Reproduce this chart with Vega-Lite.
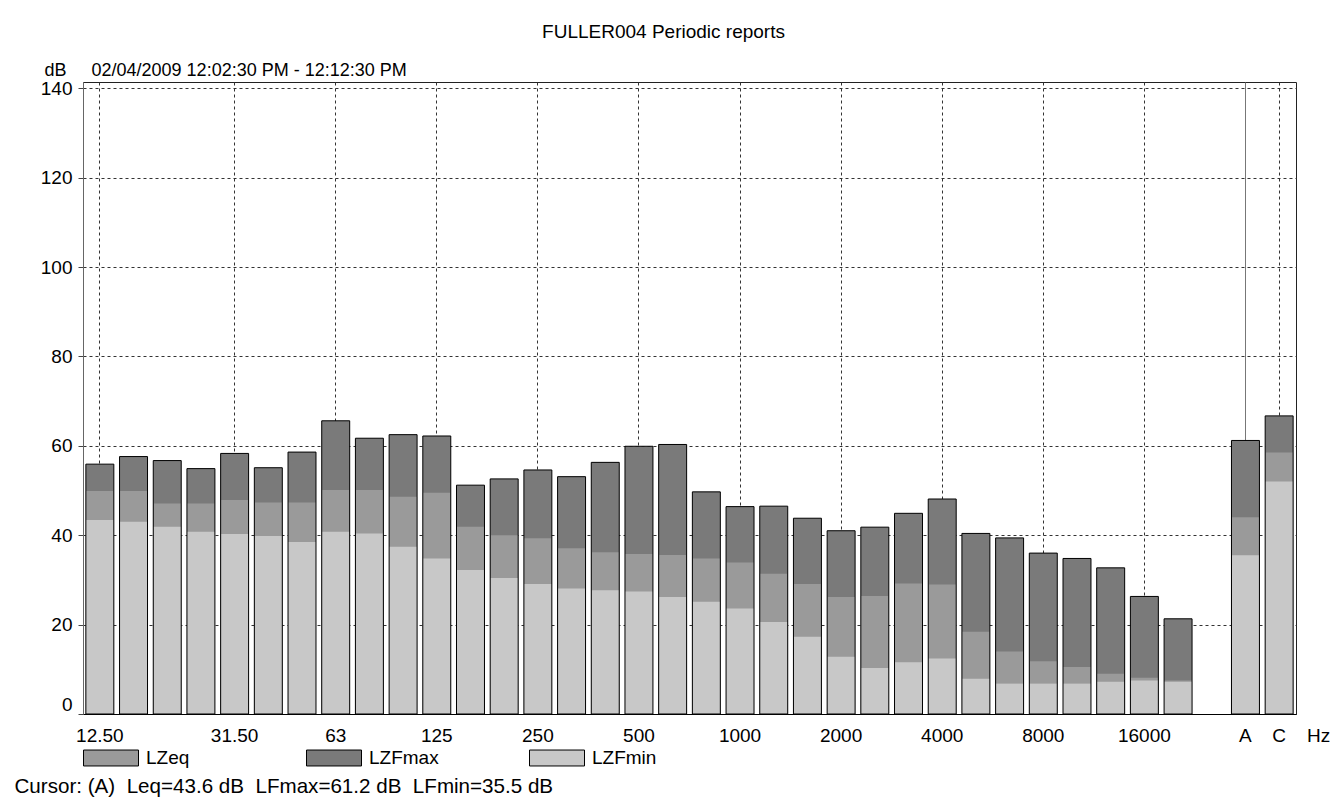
{
  "$schema": "https://vega.github.io/schema/vega-lite/v6.json",
  "width": 1213,
  "height": 632,
  "autosize": {"type": "none"},
  "padding": {"left": 83, "top": 82, "right": 39, "bottom": 92},
  "background": "white",
  "title": {"text": "FULLER004 Periodic reports", "anchor": "middle", "dx": -26, "offset": 4, "fontSize": 19, "fontWeight": "normal", "color": "black", "font": "Liberation Sans", "baseline": "alphabetic"},
  "config": {"font": "Liberation Sans", "view": {"stroke": "#222", "strokeWidth": 1}},
  "data": {"values": [
    {"band": "12.5", "series": "LZFmax", "value": 55.9}, {"band": "12.5", "series": "LZeq", "value": 49.9}, {"band": "12.5", "series": "LZFmin", "value": 43.4},
    {"band": "16", "series": "LZFmax", "value": 57.6}, {"band": "16", "series": "LZeq", "value": 49.9}, {"band": "16", "series": "LZFmin", "value": 43.0},
    {"band": "20", "series": "LZFmax", "value": 56.7}, {"band": "20", "series": "LZeq", "value": 47.1}, {"band": "20", "series": "LZFmin", "value": 41.9},
    {"band": "25", "series": "LZFmax", "value": 54.9}, {"band": "25", "series": "LZeq", "value": 47.1}, {"band": "25", "series": "LZFmin", "value": 40.8},
    {"band": "31.5", "series": "LZFmax", "value": 58.3}, {"band": "31.5", "series": "LZeq", "value": 47.9}, {"band": "31.5", "series": "LZFmin", "value": 40.3},
    {"band": "40", "series": "LZFmax", "value": 55.1}, {"band": "40", "series": "LZeq", "value": 47.3}, {"band": "40", "series": "LZFmin", "value": 39.8},
    {"band": "50", "series": "LZFmax", "value": 58.6}, {"band": "50", "series": "LZeq", "value": 47.3}, {"band": "50", "series": "LZFmin", "value": 38.5},
    {"band": "63", "series": "LZFmax", "value": 65.6}, {"band": "63", "series": "LZeq", "value": 50.1}, {"band": "63", "series": "LZFmin", "value": 40.8},
    {"band": "80", "series": "LZFmax", "value": 61.7}, {"band": "80", "series": "LZeq", "value": 50.1}, {"band": "80", "series": "LZFmin", "value": 40.4},
    {"band": "100", "series": "LZFmax", "value": 62.5}, {"band": "100", "series": "LZeq", "value": 48.6}, {"band": "100", "series": "LZFmin", "value": 37.4},
    {"band": "125", "series": "LZFmax", "value": 62.2}, {"band": "125", "series": "LZeq", "value": 49.5}, {"band": "125", "series": "LZFmin", "value": 34.8},
    {"band": "160", "series": "LZFmax", "value": 51.2}, {"band": "160", "series": "LZeq", "value": 41.9}, {"band": "160", "series": "LZFmin", "value": 32.2},
    {"band": "200", "series": "LZFmax", "value": 52.6}, {"band": "200", "series": "LZeq", "value": 40.0}, {"band": "200", "series": "LZFmin", "value": 30.4},
    {"band": "250", "series": "LZFmax", "value": 54.6}, {"band": "250", "series": "LZeq", "value": 39.3}, {"band": "250", "series": "LZFmin", "value": 29.1},
    {"band": "315", "series": "LZFmax", "value": 53.1}, {"band": "315", "series": "LZeq", "value": 37.1}, {"band": "315", "series": "LZFmin", "value": 28.1},
    {"band": "400", "series": "LZFmax", "value": 56.3}, {"band": "400", "series": "LZeq", "value": 36.2}, {"band": "400", "series": "LZFmin", "value": 27.7},
    {"band": "500", "series": "LZFmax", "value": 59.9}, {"band": "500", "series": "LZeq", "value": 35.8}, {"band": "500", "series": "LZFmin", "value": 27.4},
    {"band": "630", "series": "LZFmax", "value": 60.3}, {"band": "630", "series": "LZeq", "value": 35.6}, {"band": "630", "series": "LZFmin", "value": 26.2},
    {"band": "800", "series": "LZFmax", "value": 49.7}, {"band": "800", "series": "LZeq", "value": 34.8}, {"band": "800", "series": "LZFmin", "value": 25.1},
    {"band": "1000", "series": "LZFmax", "value": 46.4}, {"band": "1000", "series": "LZeq", "value": 33.9}, {"band": "1000", "series": "LZFmin", "value": 23.6},
    {"band": "1250", "series": "LZFmax", "value": 46.5}, {"band": "1250", "series": "LZeq", "value": 31.4}, {"band": "1250", "series": "LZFmin", "value": 20.6},
    {"band": "1600", "series": "LZFmax", "value": 43.8}, {"band": "1600", "series": "LZeq", "value": 29.1}, {"band": "1600", "series": "LZFmin", "value": 17.3},
    {"band": "2000", "series": "LZFmax", "value": 41.0}, {"band": "2000", "series": "LZeq", "value": 26.2}, {"band": "2000", "series": "LZFmin", "value": 12.8},
    {"band": "2500", "series": "LZFmax", "value": 41.8}, {"band": "2500", "series": "LZeq", "value": 26.4}, {"band": "2500", "series": "LZFmin", "value": 10.3},
    {"band": "3150", "series": "LZFmax", "value": 44.9}, {"band": "3150", "series": "LZeq", "value": 29.2}, {"band": "3150", "series": "LZFmin", "value": 11.6},
    {"band": "4000", "series": "LZFmax", "value": 48.1}, {"band": "4000", "series": "LZeq", "value": 29.0}, {"band": "4000", "series": "LZFmin", "value": 12.4},
    {"band": "5000", "series": "LZFmax", "value": 40.4}, {"band": "5000", "series": "LZeq", "value": 18.4}, {"band": "5000", "series": "LZFmin", "value": 7.9},
    {"band": "6300", "series": "LZFmax", "value": 39.4}, {"band": "6300", "series": "LZeq", "value": 14.0}, {"band": "6300", "series": "LZFmin", "value": 6.8},
    {"band": "8000", "series": "LZFmax", "value": 36.0}, {"band": "8000", "series": "LZeq", "value": 11.8}, {"band": "8000", "series": "LZFmin", "value": 6.8},
    {"band": "10000", "series": "LZFmax", "value": 34.8}, {"band": "10000", "series": "LZeq", "value": 10.5}, {"band": "10000", "series": "LZFmin", "value": 6.8},
    {"band": "12500", "series": "LZFmax", "value": 32.7}, {"band": "12500", "series": "LZeq", "value": 9.0}, {"band": "12500", "series": "LZFmin", "value": 7.2},
    {"band": "16000", "series": "LZFmax", "value": 26.3}, {"band": "16000", "series": "LZeq", "value": 8.1}, {"band": "16000", "series": "LZFmin", "value": 7.5},
    {"band": "20000", "series": "LZFmax", "value": 21.3}, {"band": "20000", "series": "LZeq", "value": 7.5}, {"band": "20000", "series": "LZFmin", "value": 7.2},
    {"band": "A", "series": "LZFmax", "value": 61.2}, {"band": "A", "series": "LZeq", "value": 44.0}, {"band": "A", "series": "LZFmin", "value": 35.5},
    {"band": "C", "series": "LZFmax", "value": 66.7}, {"band": "C", "series": "LZeq", "value": 58.5}, {"band": "C", "series": "LZFmin", "value": 52.0}
  ]},
  "encoding": {
    "x": {
      "field": "band", "type": "nominal",
      "scale": {"domain": ["12.5","16","20","25","31.5","40","50","63","80","100","125","160","200","250","315","400","500","630","800","1000","1250","1600","2000","2500","3150","4000","5000","6300","8000","10000","12500","16000","20000","gap","A","C"], "paddingInner": 0.17, "paddingOuter": 0.085},
      "axis": {
        "title": "Cursor: (A)\u00a0 Leq=43.6 dB\u00a0 LFmax=61.2 dB\u00a0 LFmin=35.5 dB",
        "titleX": -69, "titleY": 78, "titleAlign": "left", "titleAnchor": "start", "titleBaseline": "alphabetic",
        "titleFontSize": 20.6, "titleFontWeight": "normal", "titleColor": "black",
        "labelAngle": 0, "labelFontSize": 19, "labelColor": "black", "labelPadding": 12, "labelOverlap": false,
        "labelAlign": {"condition": {"test": "datum.value === 'C'", "value": "left"}, "value": "center"},
        "labelOffset": {"condition": {"test": "datum.value === 'C'", "value": -7}, "value": 0},
        "ticks": false, "domainColor": "black", "domainWidth": 1,
        "grid": true,
        "gridColor": {"condition": {"test": "datum.value === 'A'", "value": "#777"}, "value": "#333"},
        "gridDash": {"condition": {"test": "datum.value === 'A'", "value": []}, "value": [3, 3]},
        "gridOpacity": {"condition": {"test": "indexof(['12.5','31.5','63','125','250','500','1000','2000','4000','8000','16000','A','C'], datum.value) < 0", "value": 0}, "value": 1},
        "labelExpr": "datum.value == '12.5' ? '12.50' : datum.value == '31.5' ? '31.50' : datum.value == 'C' ? 'C\u00a0\u00a0\u00a0\u00a0Hz' : (indexof(['63','125','250','500','1000','2000','4000','8000','16000','A'], datum.value) >= 0 ? datum.value : '')"
      }
    },
    "y": {
      "field": "value", "type": "quantitative", "stack": null,
      "scale": {"domain": [0, 141.4], "nice": false, "zero": true},
      "axis": {
        "title": "dB\u00a0\u00a0\u00a0\u00a0\u00a002/04/2009 12:02:30 PM - 12:12:30 PM",
        "titleAngle": 0, "titleAlign": "left", "titleBaseline": "alphabetic", "titleX": -39, "titleY": -7,
        "titleFontSize": 18, "titleFontWeight": "normal", "titleColor": "black",
        "values": [0, 20, 40, 60, 80, 100, 120, 140],
        "labelFontSize": 19, "labelColor": "black", "labelPadding": 6, "labelFlush": true,
        "tickSize": 5, "tickColor": "#444", "domainColor": "#666",
        "grid": true, "gridColor": "#333", "gridDash": [3, 3]
      }
    }
  },
  "layer": [
    {
      "mark": {"type": "bar", "strokeWidth": 0},
      "encoding": {
        "color": {
          "field": "series", "type": "nominal",
          "scale": {"domain": ["LZeq", "LZFmax", "LZFmin"], "range": ["#9a9a9a", "#7a7a7a", "#c8c8c8"]},
          "legend": {
            "orient": "none", "legendX": 0, "legendY": 648, "direction": "horizontal", "title": null,
            "symbolType": "M-1,-0.29H1V0.29H-1Z", "symbolSize": 3025, "symbolStrokeColor": "black", "symbolStrokeWidth": 1, "symbolOpacity": 1,
            "labelFontSize": 19, "labelColor": "black", "labelOffset": 7, "columnPadding": 88, "gridAlign": "all", "padding": 0
          }
        }
      }
    },
    {
      "transform": [{"filter": "datum.series === 'LZFmax'"}],
      "mark": {"type": "bar", "fillOpacity": 0, "stroke": "black", "strokeWidth": 1}
    }
  ]
}
